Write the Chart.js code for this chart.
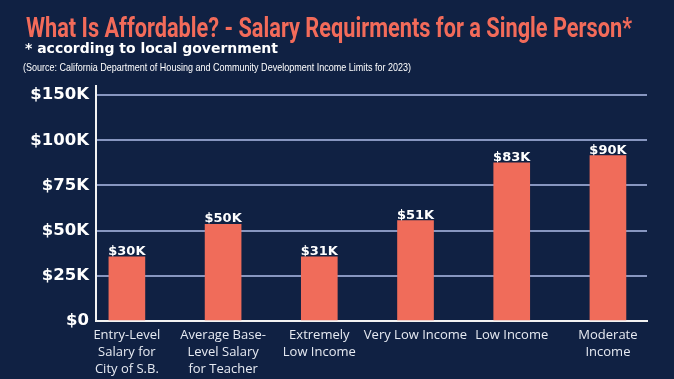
<!DOCTYPE html>
<html><head><meta charset="utf-8">
<script src="https://cdn.jsdelivr.net/npm/chart.js@4"></script>
<style>
html,body{margin:0;padding:0;background:#102143;width:674px;height:379px;overflow:hidden;}
#wrap{position:relative;width:674px;height:379px;}
canvas{position:absolute;left:0;top:0;}
.t{position:absolute;white-space:nowrap;transform-origin:0 0;line-height:1;}
#title{left:26px;top:11px;font:700 28px Roboto,"DejaVu Sans",sans-serif;color:#F26B5A;}
#sub{left:25px;top:40px;font:700 14px "DejaVu Sans",sans-serif;color:#fff;}
#src{left:23px;top:61px;font:400 11px "Liberation Sans",sans-serif;color:#fff;}
</style></head><body>
<div id="wrap">
<canvas id="c" width="674" height="379"></canvas>
<div class="t" id="title" data-w="606">What Is Affordable? - Salary Requirments for a Single Person*</div>
<div class="t" id="sub" data-w="253">* according to local government</div>
<div class="t" id="src" data-w="388">(Source: California Department of Housing and Community Development Income Limits for 2023)</div>
</div>
<script>
const categories = [
  ['Entry-Level', 'Salary for', 'City of S.B.'],
  ['Average Base-', 'Level Salary', 'for Teacher'],
  ['Extremely', 'Low Income'],
  'Very Low Income',
  'Low Income',
  ['Moderate', 'Income']
];
const salaries = [35500, 53500, 35500, 55500, 87500, 91500];
const valueLabels = ['$30K', '$50K', '$31K', '$51K', '$83K', '$90K'];
const yTickValues = [0, 25000, 50000, 75000, 100000, 125000];
const yTickLabels = ['$0', '$25K', '$50K', '$75K', '$100K', '$150K'];

document.querySelectorAll('.t').forEach(el => {
  const w = el.getBoundingClientRect().width;
  const target = Number(el.dataset.w);
  el.style.transform = 'scaleX(' + (target / w) + ')';
});

const valueLabelPlugin = {
  id: 'valueLabels',
  afterDatasetsDraw(chart) {
    const ctx = chart.ctx;
    const meta = chart.getDatasetMeta(0);
    ctx.save();
    ctx.font = 'bold 13px "DejaVu Sans"';
    ctx.fillStyle = '#ffffff';
    ctx.textAlign = 'center';
    ctx.textBaseline = 'alphabetic';
    meta.data.forEach((bar, i) => ctx.fillText(valueLabels[i], bar.x, bar.y - 2));
    ctx.restore();
  }
};

new Chart(document.getElementById('c'), {
  type: 'bar',
  data: {
    datasets: [{
      data: salaries.map((v, i) => ({x: i, y: v})),
      backgroundColor: '#F06C5A',
      barThickness: 36,
      borderWidth: 0
    }]
  },
  plugins: [valueLabelPlugin],
  options: {
    responsive: false,
    animation: false,
    layout: {padding: {left: 6, right: 27, top: 86, bottom: 0}},
    plugins: {legend: {display: false}, tooltip: {enabled: false}},
    scales: {
      x: {
        type: 'linear', min: -0.321, max: 5.406, offset: false,
        grid: {display: false, drawTicks: false},
        border: {display: true, color: '#f2f2f2', width: 2},
        ticks: {
          stepSize: 1, includeBounds: false, autoSkip: false, maxRotation: 0, minRotation: 0,
          padding: 6, color: '#e6eaf2',
          font: {family: "'Open Sans'", size: 13, lineHeight: 1.3},
          callback: v => Number.isInteger(v) && v >= 0 && v < categories.length ? categories[v] : ''
        },
        afterFit: s => { s.height = 58; }
      },
      y: {
        min: 0, max: 130000,
        afterBuildTicks: s => { s.ticks = yTickValues.map(v => ({value: v})); },
        grid: {
          color: c => (c.tick && c.tick.value === 0) ? 'rgba(0,0,0,0)' : '#8796c0',
          lineWidth: 2, drawTicks: false
        },
        border: {display: true, color: '#f2f2f2', width: 2},
        ticks: {
          padding: 7, color: '#ffffff',
          font: {family: "'DejaVu Sans'", weight: 'bold', size: 16.5},
          callback: v => yTickLabels[yTickValues.indexOf(v)]
        },
        afterFit: s => { s.width = 90; }
      }
    }
  }
});
</script>
</body></html>
